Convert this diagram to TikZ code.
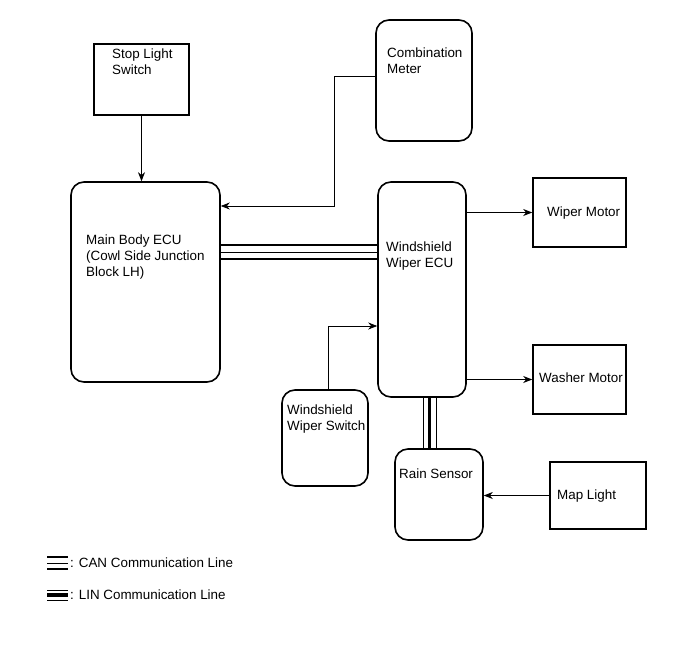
\documentclass[tikz,border=0pt]{standalone}
\usepackage{fontspec}
\setmainfont{Liberation Sans}
\usetikzlibrary{arrows.meta}

\tikzset{
  box/.style={draw, line width=1.6pt, inner sep=0pt},
  rbox/.style={box, rounded corners=13pt},
  txt/.style={anchor=base west, align=left, inner sep=0pt, font=\fontsize{13.4}{16}\selectfont},
  arr/.style={line width=0.8pt, -{Stealth[length=9pt,width=7pt]}},
  thinbus/.style={line width=0.9pt},
  thickbus/.style={line width=2pt}
}

\begin{document}
\begin{tikzpicture}[x=1pt, y=-1pt]
  \useasboundingbox (0,0) rectangle (689,659);

  % boxes
  \node[box, minimum width=95pt, minimum height=71pt] (slsw) at (141.5,79.5) {};
  \node[rbox, minimum width=149pt, minimum height=200pt] (mbecu) at (145.5,282) {};
  \node[rbox, minimum width=96pt, minimum height=121pt] (cmeter) at (424,80.5) {};
  \node[rbox, minimum width=88pt, minimum height=215pt] (wecu) at (422,289.5) {};
  \node[box, minimum width=93pt, minimum height=69pt] (wmotor) at (579.5,212.5) {};
  \node[box, minimum width=93pt, minimum height=69pt] (wamotor) at (579.5,379.5) {};
  \node[rbox, minimum width=86pt, minimum height=96pt] (wsw) at (325,438) {};
  \node[rbox, minimum width=88pt, minimum height=91pt] (rsensor) at (439,494.5) {};
  \node[box, minimum width=96pt, minimum height=67pt] (mlight) at (598,495.5) {};

  % texts (base = last line)
  \node[txt] (slswtxt) at (112,74) {Stop Light\\Switch};
  \node[txt] (mbecutxt) at (86,276) {Main Body ECU\\(Cowl Side Junction\\Block LH)};
  \node[txt] (cmetertxt) at (387,73) {Combination\\Meter};
  \node[txt] (wecutxt) at (386,267) {Windshield\\Wiper ECU};
  \node[txt] (wmotortxt) at (547,216) {Wiper Motor};
  \node[txt] (wamotortxt) at (539,382) {Washer Motor};
  \node[txt] (wswtxt) at (287,430) {Windshield\\Wiper Switch};
  \node[txt] (rsensortxt) at (399,478) {Rain Sensor};
  \node[txt] (mlighttxt) at (557,499) {Map Light};

  % signals
  \draw[arr] (slsw.south) -- (slsw.south |- mbecu.north);
  \draw[arr] ([yshift=4.5pt]cmeter.west) -- ++(-41pt,0) |- ([yshift=76pt]mbecu.east);
  \draw[arr] (wecu.east |- wmotor.west) -- (wmotor.west);
  \draw[arr] (wecu.east |- wamotor.west) -- (wamotor.west);
  \draw[arr] ([xshift=3pt]wsw.north) |- ([yshift=-36.5pt]wecu.west);
  \draw[arr] (mlight.west) -- (mlight.west -| rsensor.east);

  % CAN
  \draw[thickbus] ([yshift=37pt]mbecu.east) -- ([yshift=37pt]mbecu.east -| wecu.west);
  \draw[thinbus] ([yshift=30pt]mbecu.east) -- ([yshift=30pt]mbecu.east -| wecu.west);
  \draw[thickbus] ([yshift=23.5pt]mbecu.east) -- ([yshift=23.5pt]mbecu.east -| wecu.west);

  % LIN
  \draw[thinbus] ([xshift=1pt]wecu.south) -- ([xshift=1pt]wecu.south |- rsensor.north);
  \draw[line width=3.5pt] ([xshift=7.5pt]wecu.south) -- ([xshift=7.5pt]wecu.south |- rsensor.north);
  \draw[thinbus] ([xshift=14.5pt]wecu.south) -- ([xshift=14.5pt]wecu.south |- rsensor.north);

  % legend
  \coordinate (cana) at (47,557);
  \coordinate (canb) at (68,557);
  \draw[thickbus] (cana) -- (canb);
  \draw[thinbus] ([yshift=-6pt]cana) -- ([yshift=-6pt]canb);
  \draw[thickbus] ([yshift=-12pt]cana) -- ([yshift=-12pt]canb);
  \node[txt] (cantxt) at (70,567) {: CAN Communication Line};

  \coordinate (lina) at (47,590.5);
  \coordinate (linb) at (68,590.5);
  \draw[thinbus] (lina) -- (linb);
  \draw[line width=3.5pt] ([yshift=-4.5pt]lina) -- ([yshift=-4.5pt]linb);
  \draw[thinbus] ([yshift=-9.5pt]lina) -- ([yshift=-9.5pt]linb);
  \node[txt] (lintxt) at (70,599) {: LIN Communication Line};
\end{tikzpicture}
\end{document}
